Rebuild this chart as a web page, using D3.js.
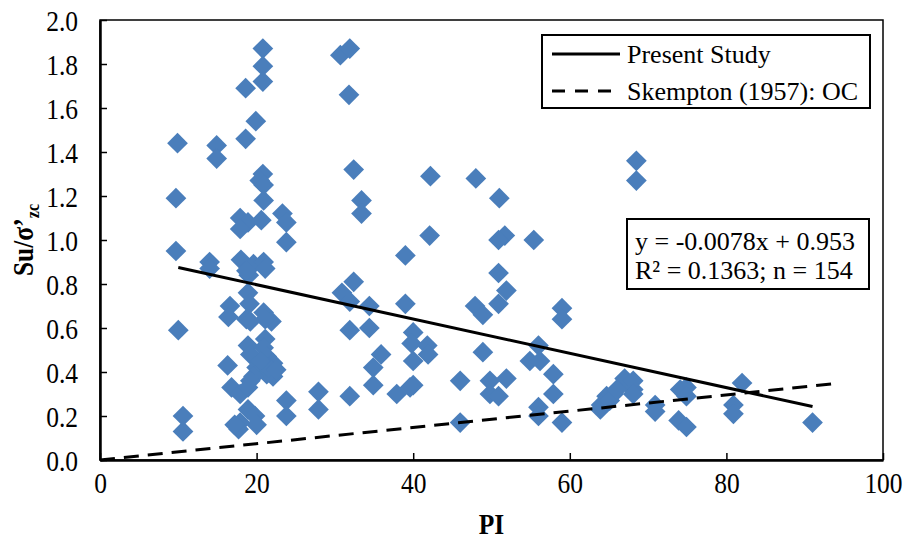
<!DOCTYPE html>
<html>
<head>
<meta charset="utf-8">
<script src="https://cdn.jsdelivr.net/npm/d3@7"></script>
<style>
  body { margin: 0; background: #fff; }
  text { font-family: "Liberation Serif", "Times New Roman", serif; fill: #000; }
</style>
</head>
<body>
<div id="chart"></div>
<script>
// PI values (x) and Su/sigma'zc (y)
var piValues = [
  9.9, 9.7, 9.7, 10.0, 10.6, 10.6, 14.0, 14.0, 14.9, 14.9,
  16.3, 16.6, 16.4, 18.6, 18.6, 19.9, 20.8, 20.8, 20.8, 20.8,
  20.4, 20.9, 20.9, 17.9, 18.9, 17.9, 20.6, 23.3, 23.8, 23.8,
  18.0, 19.6, 20.9, 21.1, 19.0, 18.7, 18.9, 19.1, 18.7, 20.9,
  21.9, 21.1, 19.2, 21.1, 18.9, 19.2, 20.9, 21.3, 20.0, 22.1,
  22.1, 21.3, 19.6, 19.2, 16.8, 17.9, 18.9, 23.8, 23.8, 18.9,
  19.8, 17.9, 17.7, 20.0, 17.2, 30.7, 31.9, 31.8, 32.4, 33.4,
  33.4, 32.4, 30.9, 31.9, 34.4, 31.9, 34.4, 35.9, 34.9, 34.9,
  31.9, 27.9, 27.9, 37.9, 39.0, 39.0, 40.0, 39.8, 41.8, 41.9,
  40.0, 40.0, 39.6, 42.2, 42.1, 48.0, 51.0, 51.7, 50.9, 55.4,
  68.5, 68.5, 50.9, 51.9, 50.9, 47.9, 48.9, 59.0, 59.0, 48.9,
  56.0, 54.9, 56.2, 57.9, 57.9, 59.0, 56.0, 56.0, 46.0, 46.0,
  49.8, 51.9, 49.8, 50.9, 63.9, 64.7, 65.6, 67.0, 68.1, 68.1,
  68.1, 70.9, 70.9, 74.1, 74.9, 74.9, 73.9, 74.9, 82.0, 80.9,
  80.9, 91.0, 64.0, 65.1, 66.0, 21.5, 20.5, 22.5
];
var suValues = [
  1.44, 1.19, 0.95, 0.59, 0.20, 0.13, 0.90, 0.87, 1.43, 1.37,
  0.43, 0.70, 0.65, 1.69, 1.46, 1.54, 1.87, 1.79, 1.72, 1.30,
  1.27, 1.25, 1.18, 1.10, 1.08, 1.05, 1.09, 1.12, 1.08, 0.99,
  0.91, 0.89, 0.90, 0.87, 0.84, 0.86, 0.76, 0.71, 0.64, 0.67,
  0.63, 0.64, 0.63, 0.55, 0.52, 0.48, 0.51, 0.47, 0.42, 0.44,
  0.38, 0.39, 0.38, 0.36, 0.33, 0.30, 0.33, 0.27, 0.20, 0.23,
  0.20, 0.17, 0.14, 0.16, 0.16, 1.84, 1.87, 1.66, 1.32, 1.18,
  1.12, 0.81, 0.76, 0.72, 0.70, 0.59, 0.60, 0.48, 0.42, 0.34,
  0.29, 0.31, 0.23, 0.30, 0.93, 0.71, 0.58, 0.53, 0.52, 0.48,
  0.45, 0.34, 0.33, 1.29, 1.02, 1.28, 1.19, 1.02, 1.00, 1.00,
  1.36, 1.27, 0.85, 0.77, 0.71, 0.70, 0.66, 0.69, 0.64, 0.49,
  0.52, 0.45, 0.45, 0.39, 0.30, 0.17, 0.24, 0.20, 0.36, 0.17,
  0.36, 0.37, 0.30, 0.29, 0.23, 0.29, 0.30, 0.37, 0.32, 0.36,
  0.30, 0.25, 0.22, 0.32, 0.33, 0.29, 0.18, 0.15, 0.35, 0.25,
  0.21, 0.17, 0.25, 0.27, 0.32, 0.42, 0.45, 0.41
];
var xTicks = [0, 20, 40, 60, 80, 100];
var yTicks = [0, 0.2, 0.4, 0.6, 0.8, 1.0, 1.2, 1.4, 1.6, 1.8, 2.0];

// trend lines
var fit = {slope: -0.0078, intercept: 0.953, from: 10, to: 91};
var skempton = {slope: 0.0037, intercept: 0, from: 0, to: 94};

var width = 905, height = 543;
var plot = {left: 100, right: 883, top: 20, bottom: 460};
var condense = 0.85;

var svg = d3.select("#chart").append("svg")
  .attr("width", width)
  .attr("height", height);

var x = d3.scaleLinear().domain([0, 100]).range([plot.left, plot.right]);
var y = d3.scaleLinear().domain([0, 2]).range([plot.bottom, plot.top]);

// plot frame
svg.append("rect")
  .attr("x", plot.left).attr("y", plot.top)
  .attr("width", plot.right - plot.left)
  .attr("height", plot.bottom - plot.top)
  .attr("fill", "none")
  .attr("stroke", "#000")
  .attr("stroke-width", 1.5);

// points
var data = piValues.map(function(d, i) { return {pi: d, su: suValues[i]}; });
var diamond = d3.symbol().type(d3.symbolSquare).size(215);
svg.append("g")
  .selectAll("path")
  .data(data)
  .join("path")
  .attr("d", diamond)
  .attr("transform", function(d) { return "translate(" + x(d.pi) + "," + y(d.su) + ") rotate(45)"; })
  .attr("fill", "#4A7EBB");

// lines
function drawLine(l, dash) {
  svg.append("line")
    .attr("x1", x(l.from)).attr("y1", y(l.intercept + l.slope * l.from))
    .attr("x2", x(l.to)).attr("y2", y(l.intercept + l.slope * l.to))
    .attr("stroke", "#000")
    .attr("stroke-width", 3)
    .attr("stroke-dasharray", dash);
}
drawLine(fit, null);
drawLine(skempton, "15,9");

// axes
var xAxis = svg.append("g")
  .attr("transform", "translate(0," + plot.bottom + ")")
  .call(d3.axisBottom(x).tickValues(xTicks).tickSizeInner(-7).tickSizeOuter(0).tickFormat(d3.format("d")));
var yAxis = svg.append("g")
  .attr("transform", "translate(" + plot.left + ",0)")
  .call(d3.axisLeft(y).tickValues(yTicks).tickSizeInner(-7).tickSizeOuter(0).tickFormat(d3.format(".1f")));

[xAxis, yAxis].forEach(function(a) {
  a.select(".domain").attr("stroke", "#000").attr("stroke-width", 2.5);
  a.selectAll(".tick line").attr("stroke", "#000").attr("stroke-width", 1.5);
  a.selectAll(".tick text")
    .attr("font-family", "Liberation Serif, serif")
    .attr("font-size", 30)
    .attr("fill", "#000");
});
xAxis.selectAll(".tick text")
  .attr("y", 33).attr("dy", 0)
  .attr("transform", "scale(" + condense + ",1)");
yAxis.selectAll(".tick text")
  .attr("x", -22 / condense).attr("dy", "0.36em")
  .attr("transform", "scale(" + condense + ",1)");

// axis titles
svg.append("text")
  .attr("transform", "translate(" + ((plot.left + plot.right) / 2) + ",534) scale(" + condense + ",1)")
  .attr("text-anchor", "middle")
  .attr("font-size", 30)
  .attr("font-weight", "bold")
  .text("PI");

var yTitle = svg.append("text")
  .attr("transform", "translate(33," + ((plot.top + plot.bottom) / 2) + ") rotate(-90) scale(" + condense + ",1)")
  .attr("text-anchor", "middle")
  .attr("font-size", 30)
  .attr("font-weight", "bold");
yTitle.append("tspan").text("Su/σ’");
yTitle.append("tspan").attr("font-size", 19).attr("dy", 6).text("zc");

// legend
var legend = svg.append("g");
legend.append("rect")
  .attr("x", 542).attr("y", 35).attr("width", 328).attr("height", 73)
  .attr("fill", "#fff").attr("stroke", "#000").attr("stroke-width", 2);
legend.append("line")
  .attr("x1", 552).attr("x2", 620).attr("y1", 54).attr("y2", 54)
  .attr("stroke", "#000").attr("stroke-width", 3);
legend.append("line")
  .attr("x1", 552).attr("x2", 620).attr("y1", 91).attr("y2", 91)
  .attr("stroke", "#000").attr("stroke-width", 3).attr("stroke-dasharray", "13,10");
legend.append("text").attr("x", 627).attr("y", 63).attr("font-size", 26).text("Present Study");
legend.append("text").attr("x", 627).attr("y", 100).attr("font-size", 26).text("Skempton (1957): OC");

// equation box
var eq = svg.append("g");
eq.append("rect")
  .attr("x", 627).attr("y", 219).attr("width", 242).attr("height", 70)
  .attr("fill", "#fff").attr("stroke", "#000").attr("stroke-width", 2);
eq.append("text").attr("x", 635).attr("y", 250).attr("font-size", 26).text("y = -0.0078x + 0.953");
eq.append("text").attr("x", 635).attr("y", 279).attr("font-size", 26).text("R² = 0.1363; n = 154");
</script>
</body>
</html>
